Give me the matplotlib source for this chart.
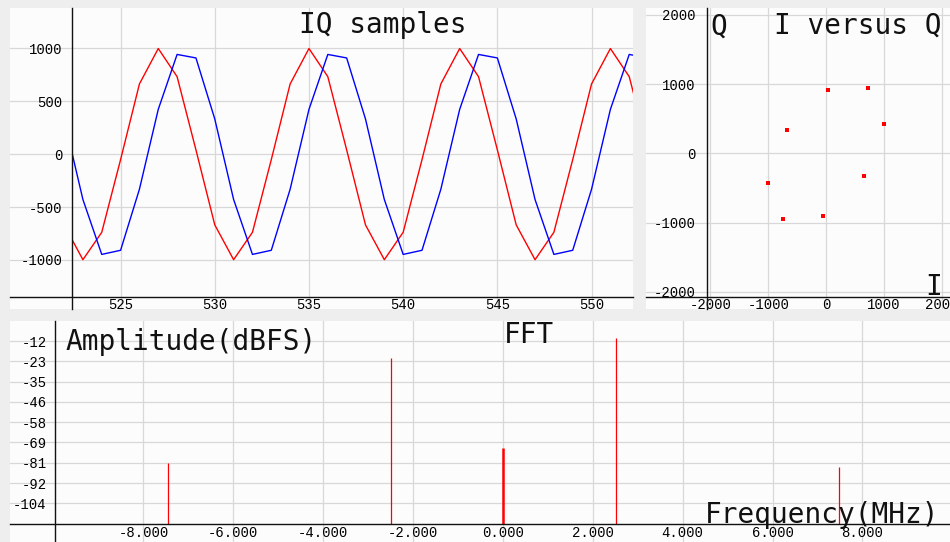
import matplotlib
matplotlib.use("Agg")
import matplotlib.pyplot as plt
from matplotlib.patches import Rectangle
from matplotlib.ticker import FixedLocator, FixedFormatter, FormatStrFormatter

plt.rcParams['axes.unicode_minus'] = False

# sample index and I/Q values
sample_idx = list(range(522, 554))
i_vals = [-669, -998, -739, -52, 663, 998, 732, 40,
          -669, -998, -739, -52, 663, 998, 732, 40,
          -669, -998, -739, -52, 663, 998, 732, 40,
          -669, -998, -739, -52, 663, 998, 732, 40]
q_vals = [332, -429, -948, -909, -332, 423, 942, 909,
          332, -429, -948, -909, -332, 423, 942, 909,
          332, -429, -948, -909, -332, 423, 942, 909,
          332, -429, -948, -909, -332, 423, 942, 909]

iq_xticks = [525, 530, 535, 540, 545, 550]
iq_yticks = [-1000, -500, 0, 500, 1000]
const_ticks = [-2000, -1000, 0, 1000, 2000]

# FFT peaks
fft_freqs = [-7.45, -2.49, 0.0, 2.51, 7.47]
fft_levels = [-81.2, -21.4, -72.6, -9.6, -83.5]
fft_floor = -115.5
fft_ytick_vals = [-11.55, -23.1, -34.65, -46.2, -57.75, -69.3, -80.85, -92.4, -103.95]
fft_ytick_labels = ['-12', '-23', '-35', '-46', '-58', '-69', '-81', '-92', '-104']
fft_xticks = [-8, -6, -4, -2, 0, 2, 4, 6, 8]

W, H = 950, 542
TICK_FONT = 'Liberation Mono'
BIG_FONT = 'DejaVu Sans Mono'
GRID = '#d8d8d8'
PANEL = '#fcfcfc'


def box(l, t, r, b):
    return [l / W, 1 - b / H, (r - l) / W, (b - t) / H]


def style_axes(ax, xpos, ypos, ypad, xpad):
    ax.set_facecolor(PANEL)
    for s in ['top', 'right']:
        ax.spines[s].set_visible(False)
    ax.spines['left'].set_position(('data', xpos))
    ax.spines['bottom'].set_position(('data', ypos))
    for s in ['left', 'bottom']:
        ax.spines[s].set_linewidth(1.0)
        ax.spines[s].set_color('#111111')
    ax.grid(True, color=GRID, lw=0.9)
    ax.set_axisbelow(True)
    ax.tick_params(axis='y', length=0, pad=ypad, labelsize=10)
    ax.tick_params(axis='x', length=0, pad=xpad, labelsize=10)
    for lab in ax.get_xticklabels() + ax.get_yticklabels():
        lab.set_fontfamily(TICK_FONT)


def fig_text(x, y, s, ha='left'):
    fig.text(x / W, 1 - y / H, s, ha=ha, va='baseline',
             fontsize=20, family=BIG_FONT, color='#111111')


fig = plt.figure(figsize=(9.5, 5.42), dpi=100, facecolor='#eeeeee')

# --- IQ samples -------------------------------------------------------
ax_iq = fig.add_axes(box(10, 8, 633, 309))
ax_iq.set_xlim(519.13, 552.20)
ax_iq.set_ylim(-1464, 1381)
ax_iq.set_xticks(iq_xticks)
ax_iq.set_yticks(iq_yticks)
style_axes(ax_iq, 522.42, -1348, 7, 1)
clip = Rectangle((522.42, -1348), 552.20 - 522.42, 1381 + 1348,
                 transform=ax_iq.transData, visible=False)
ax_iq.add_patch(clip)
l1, = ax_iq.plot(sample_idx, i_vals, color='#ff0000', lw=1.0)
l2, = ax_iq.plot(sample_idx, q_vals, color='#0000ff', lw=1.0)
l1.set_clip_path(clip)
l2.set_clip_path(clip)

# --- I versus Q -------------------------------------------------------
ax_c = fig.add_axes(box(646, 8, 950, 309))
ax_c.set_xlim(-3114, 2145)
ax_c.set_ylim(-2247, 2097)
ax_c.set_xticks(const_ticks)
ax_c.set_yticks(const_ticks)
style_axes(ax_c, -2064, -2069, 8, 1)
ax_c.scatter(i_vals, q_vals, s=7, marker='s', color='#ff0000', lw=0)

# --- FFT --------------------------------------------------------------
ax_f = fig.add_axes(box(10, 321, 950, 542))
ax_f.set_xlim(-10.97, 9.95)
ax_f.set_ylim(-126.0, -0.1)
ax_f.set_xticks(fft_xticks)
ax_f.xaxis.set_major_formatter(FormatStrFormatter('%.3f'))
ax_f.yaxis.set_major_locator(FixedLocator(fft_ytick_vals))
ax_f.yaxis.set_major_formatter(FixedFormatter(fft_ytick_labels))
style_axes(ax_f, -9.97, fft_floor, 6, 2)
ax_f.vlines(fft_freqs, fft_floor, fft_levels, colors='#ff0000',
            linewidths=[0.9, 0.9, 1.8, 0.9, 0.9])

# --- text labels ------------------------------------------------------
fig_text(383, 33, 'IQ samples', ha='center')
fig_text(719, 35, 'Q', ha='center')
fig_text(858, 34, 'I versus Q', ha='center')
fig_text(934, 295, 'I', ha='center')
fig_text(191, 350, 'Amplitude(dBFS)', ha='center')
fig_text(529, 343, 'FFT', ha='center')
fig_text(822, 523, 'Frequency(MHz)', ha='center')

fig.savefig('out.png', dpi=100, facecolor=fig.get_facecolor())
